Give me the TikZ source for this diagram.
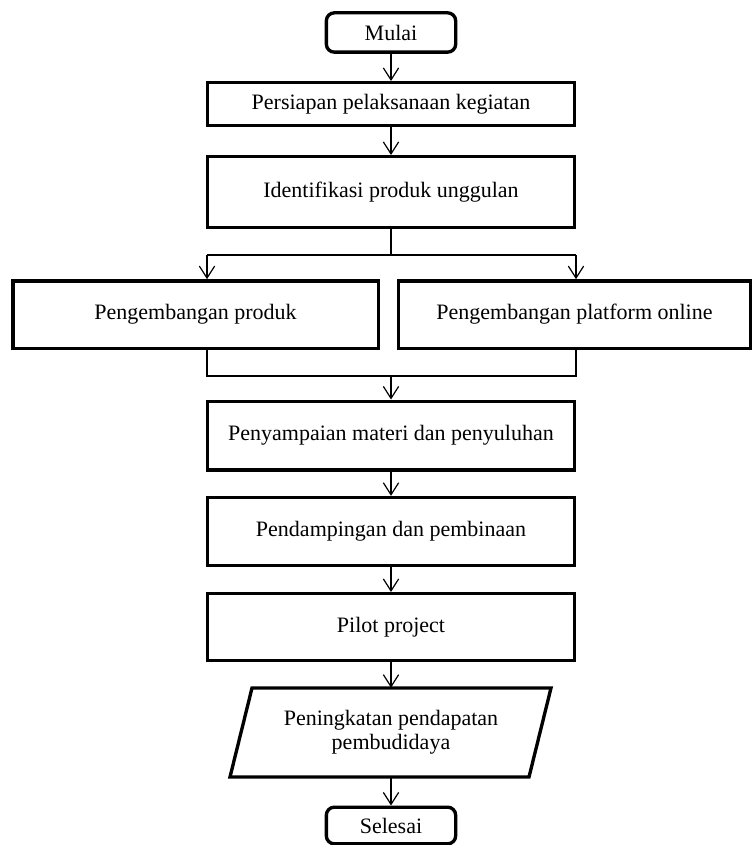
\documentclass[tikz,border=0pt]{standalone}
\usepackage{fontspec}
\setmainfont{Liberation Serif}
\usetikzlibrary{arrows.meta}
\begin{document}
\begin{tikzpicture}[x=0.75pt,y=-0.75pt,
  txt/.style={font=\fontsize{16.5pt}{18pt}\selectfont},
  box/.style={txt,draw,line width=2.5pt,minimum width=#1,inner sep=0pt},
  term/.style={txt,draw,line width=2.5pt,rounded corners=6pt,minimum width=97pt,inner sep=0pt},
  conn/.style={line width=0.9pt},
  arr/.style={conn,-{Straight Barb[length=9pt,width=11.5pt,line width=0.9pt]}}]
\useasboundingbox (0,0) rectangle (753,845);
\node[term,minimum height=29.5pt] (start) at (391,32.5) {Mulai};
\node[box=275.5pt,minimum height=32pt] (prep) at (391,104) {Persiapan pelaksanaan kegiatan};
\node[box=275.5pt,minimum height=53pt] (ident) at (391,192) {Identifikasi produk unggulan};
\node[box=274pt,minimum height=50.5pt] (prod) at (195.5,314.5) {Pengembangan produk};
\node[box=264pt,minimum height=50.5pt] (plat) at (574.5,314.5) {Pengembangan platform online};
\node[box=275.5pt,minimum height=51.5pt] (mat) at (391,435.5) {Penyampaian materi dan penyuluhan};
\node[box=275.5pt,minimum height=51pt] (damp) at (391,531.5) {Pendampingan dan pembinaan};
\node[box=275.5pt,minimum height=50pt] (pilot) at (391,627) {Pilot project};
\draw[line width=2.5pt,line join=miter] (252,688) -- (551,688) -- (529,777) -- (230,777) -- cycle;
\node[txt,inner sep=0pt,minimum height=66.75pt,align=center,font=\fontsize{16.5pt}{18pt}\selectfont] (inc) at (391,732.5) {Peningkatan pendapatan\\pembudidaya};
\node[term,minimum height=27.5pt] (end) at (391,825.5) {Selesai};
\coordinate (split) at (391,255);
\coordinate (sl) at (207,255);
\coordinate (sr) at (576,255);
\coordinate (jl) at (207,376);
\coordinate (jr) at (576,376);
\coordinate (join) at (391,376);
\draw[arr] (start) -- (prep);
\draw[arr] (prep) -- (ident);
\draw[conn] (ident) -- (split);
\draw[conn] (sl) -- (sr);
\draw[arr] (sl) -- (sl |- prod.north);
\draw[arr] (sr) -- (sr |- plat.north);
\draw[conn] (jl |- prod.south) -- (jl) -- (jr) -- (jr |- plat.south);
\draw[arr] (join) -- (mat);
\draw[arr] (mat) -- (damp);
\draw[arr] (damp) -- (pilot);
\draw[arr] (pilot) -- (inc);
\draw[arr] (inc) -- (end);
\end{tikzpicture}
\end{document}
